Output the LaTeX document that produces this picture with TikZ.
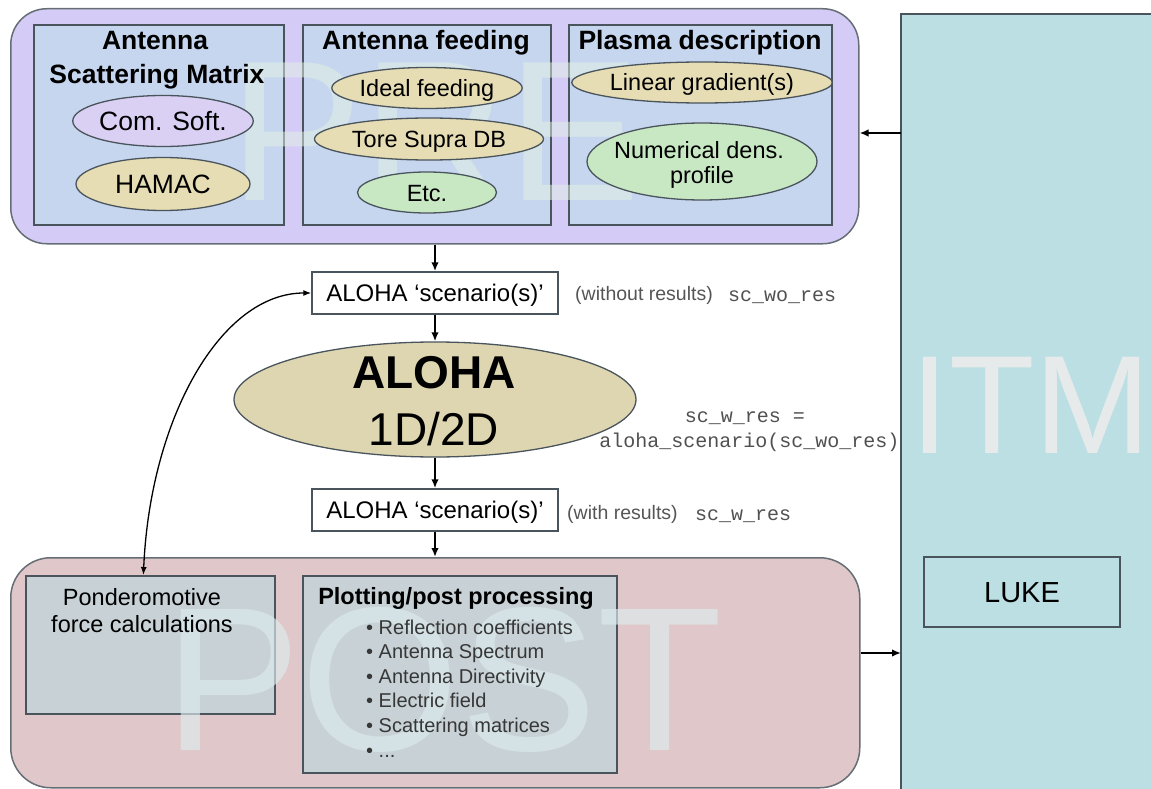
\documentclass[tikz,border=0pt]{standalone}
\usepackage{fontspec}
\setmainfont{Liberation Sans}
\setmonofont{Liberation Mono}
\usetikzlibrary{shapes.geometric,arrows.meta}

\definecolor{prec}{RGB}{213,203,247}
\definecolor{inbox}{RGB}{198,214,238}
\definecolor{bord}{RGB}{74,84,92}
\definecolor{lav}{RGB}{218,208,244}
\definecolor{tanc}{RGB}{230,221,180}
\definecolor{grn}{RGB}{200,232,196}
\definecolor{aloc}{RGB}{222,214,176}
\definecolor{postc}{RGB}{224,200,202}
\definecolor{postbox}{RGB}{200,210,214}
\definecolor{itmc}{RGB}{187,223,227}
\definecolor{wmPRE}{RGB}{226,242,228}
\definecolor{wmPOST}{RGB}{220,236,238}
\definecolor{wmITM}{RGB}{236,236,236}
\definecolor{notegray}{RGB}{85,85,85}
\definecolor{codegray}{RGB}{80,80,80}
\definecolor{bulgray}{RGB}{55,55,55}

\newcommand{\fs}[2]{\fontsize{#1}{#2}\selectfont}

\begin{document}
\begin{tikzpicture}[x=1pt,y=-1pt,
  frame/.style={draw=bord!85, line width=1.5pt, rounded corners=36pt, inner sep=0pt, anchor=north west},
  panel/.style={draw=bord, line width=1.8pt, fill=inbox, inner sep=0pt, anchor=north west},
  oval/.style={ellipse, draw=bord, line width=1.3pt, inner sep=0pt},
  ovA/.style={oval, font=\fs{26.5}{30}, text height=19pt, text depth=0pt},
  ovB/.style={oval, font=\fs{23.5}{27}, text height=17pt, text depth=0pt},
  ttl/.style={font=\bfseries\fs{26.5}{32}, inner sep=0pt, anchor=base},
  lbl/.style={font=\fs{23.5}{27}, inner sep=0pt, anchor=base},
  wm/.style={inner sep=0pt, anchor=base west},
  scbox/.style={draw=bord, line width=1.5pt, fill=white, minimum width=246pt, minimum height=42pt, inner sep=0pt, font=\fs{24}{28}, text height=17.5pt, text depth=0pt},
  note/.style={inner sep=0pt, anchor=base west, text=notegray, font=\fs{19.5}{24}},
  code/.style={inner sep=0pt, anchor=base west, text=codegray, font=\ttfamily\fs{20}{25}},
  bul/.style={inner sep=0pt, anchor=base west, text=bulgray, font=\fs{20}{24}},
  arr/.style={-{Latex[length=9pt,width=7.5pt]}, line width=1.8pt},
  darr/.style={{Latex[length=8pt,width=6pt]}-{Latex[length=8pt,width=6pt]}, line width=1.3pt}
]
\useasboundingbox (0,0) rectangle (1151,789);

% ---------------- ITM ----------------
\node[fill=itmc, anchor=north west, minimum width=250pt, minimum height=775pt, inner sep=0pt] (itm) at (901,14) {};
\draw[bord, line width=1.8pt] (itm.south west) -- (itm.north west) -- (itm.north east);
\node[wm, font=\fs{140}{140}, text=wmITM, text opacity=0.9] (witm) at (910,453) {ITM};
\node[draw=bord, line width=1.5pt, fill=itmc, minimum width=196pt, minimum height=70pt, inner sep=0pt, font=\fs{29}{32}, text height=21pt, text depth=0pt] (luke) at (1022,592) {LUKE};

% ---------------- PRE ----------------
\node[frame, fill=prec, minimum width=848pt, minimum height=235pt] (pre) at (10,8) {};
\node[panel, minimum width=250pt, minimum height=200pt] (asm) at (33,24) {};
\node[panel, minimum width=248pt, minimum height=200pt] (feed) at (302,24) {};
\node[panel, minimum width=263pt, minimum height=200pt] (plasma) at (568,24) {};
\node[wm, font=\fs{200}{200}, text=wmPRE, text opacity=0.5] (wpre) at (229,200) {PRE};

\node[ttl] (tasm1) at (155,50) {Antenna};
\node[ttl] (tasm2) at (157,83.5) {Scattering Matrix};
\node[ttl] (tfeed) at (426,50) {Antenna feeding};
\node[ttl] (tplas) at (700,50) {Plasma description};

\node[ovA, fill=lav, minimum width=174pt, minimum height=51pt] (comsoft) at (163,121) {Com. Soft.};
\node[ovA, fill=tanc, minimum width=174pt, minimum height=53pt] (hamac) at (163,184) {HAMAC};
\node[ovB, fill=tanc, minimum width=169pt, minimum height=41pt] (ideal) at (427,88) {Ideal feeding};
\node[ovB, fill=tanc, minimum width=229pt, minimum height=42pt] (tore) at (429,139) {Tore Supra DB};
\node[ovB, fill=grn, minimum width=139pt, minimum height=41pt] (etc) at (427,192.5) {Etc.};
\node[ovB, fill=tanc, minimum width=230pt, minimum height=41pt] (lin) at (702,82.5) {Linear gradient(s)};
\node[oval, fill=grn, minimum width=230pt, minimum height=77pt] (num) at (702,161.5) {};
\node[lbl] (numt1) at (699,158.5) {Numerical dens.};
\node[lbl] (numt2) at (702,183) {profile};

% ---------------- middle ----------------
\node[scbox] (sc1) at (435,293) {ALOHA ‘scenario(s)’};
\node[oval, fill=aloc, minimum width=402pt, minimum height=115pt] (aloha) at (435,399.5) {};
\node[inner sep=0pt, anchor=base, font=\bfseries\fs{46}{50}] (aloha1) at (434,388) {ALOHA};
\node[inner sep=0pt, anchor=base, font=\fs{46}{50}] (aloha2) at (434,445) {1D/2D};
\node[scbox] (sc2) at (435,510) {ALOHA ‘scenario(s)’};

\node[note] (n1) at (575,300) {(without results)};
\node[code] (c1) at (728,301.5) {sc\_wo\_res};
\node[code, anchor=base] (c2) at (745,422) {sc\_w\_res =};
\node[code, anchor=base] (c3) at (749.5,447) {aloha\_scenario(sc\_wo\_res)};
\node[note] (n2) at (567,519) {(with results)};
\node[code] (c4) at (695,520.5) {sc\_w\_res};

% ---------------- POST ----------------
\node[frame, rounded corners=40pt, fill=postc, minimum width=849pt, minimum height=230pt] (post) at (10,557) {};
\node[panel, fill=postbox, minimum width=249pt, minimum height=138pt] (pond) at (25,575) {};
\node[panel, fill=postbox, minimum width=314pt, minimum height=197pt] (plot) at (302,575) {};
\node[wm, font=\fs{205}{205}, text=wmPOST, text opacity=0.65] (wpost) at (164,750) {POST};

\node[lbl] (pond1) at (142,605) {Ponderomotive};
\node[lbl] (pond2) at (142,632) {force calculations};
\node[ttl, font=\bfseries\fs{23.5}{28}] (plott) at (456,604) {Plotting/post processing};
\node[bul] (b1) at (366,634) {• Reflection coefficients};
\node[bul] (b2) at (366,658.6) {• Antenna Spectrum};
\node[bul] (b3) at (366,683.2) {• Antenna Directivity};
\node[bul] (b4) at (366,707.8) {• Electric field};
\node[bul] (b5) at (366,732.4) {• Scattering matrices};
\node[bul] (b6) at (366,757) {• ...};

% ---------------- connectors ----------------
\draw[arr] (pre.south -| sc1.north) -- (sc1.north);
\draw[arr] (sc1.south) -- (aloha.north);
\draw[arr] (aloha.south) -- (sc2.north);
\draw[arr] (sc2.south) -- (post.north -| sc2.south);
\coordinate (yin) at (880,133);
\draw[arr] (itm.west |- yin) -- (pre.east |- yin);
\coordinate (yout) at (880,653);
\draw[arr] (post.east |- yout) -- (itm.west |- yout);
\draw[darr] (sc1.west) .. controls (220,293) and (150,420) .. ([xshift=-7pt]pond.north);
\end{tikzpicture}
\end{document}
